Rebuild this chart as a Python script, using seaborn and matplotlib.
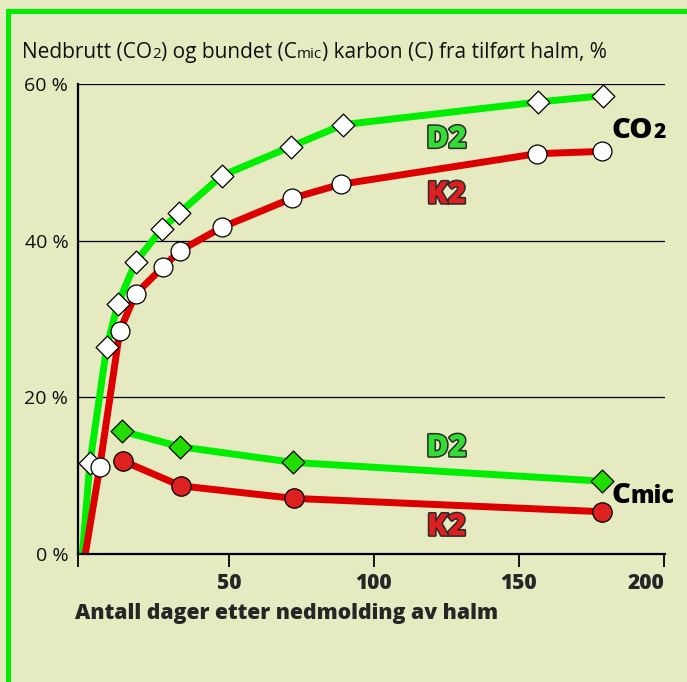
import matplotlib
matplotlib.use('Agg')
import matplotlib.pyplot as plt
import matplotlib.patheffects as pe
from matplotlib.patches import Rectangle
from matplotlib.transforms import IdentityTransform
import pandas as pd
import seaborn as sns

# CO2 released (open markers); lines start at day ~0, 0 %
co2_d2_days = [2.1, 7.9, 11.7, 17.9, 26.9, 32.8, 47.6, 71.4, 89.3, 156.6, 179.0]
co2_d2_pct = [11.6, 26.4, 31.9, 37.3, 41.5, 43.5, 48.3, 52.0, 54.8, 57.7, 58.5]
co2_k2_days = [5.5, 12.4, 17.9, 27.2, 33.1, 47.6, 71.7, 88.6, 156.2, 178.6]
co2_k2_pct = [11.1, 28.5, 33.2, 36.6, 38.7, 41.7, 45.4, 47.2, 51.1, 51.4]
start_d2 = (-0.5, 0.0)
start_k2 = (0.5, 0.0)

# microbial carbon (filled markers)
cmic_d2_days = [13.1, 33.1, 72.1, 178.6]
cmic_d2_pct = [15.7, 13.7, 11.7, 9.3]
cmic_k2_days = [13.4, 33.4, 72.4, 178.6]
cmic_k2_pct = [11.9, 8.7, 7.1, 5.4]

x_ticks = [-2, 50, 100, 150, 200]
x_ticklabels = ['', '50', '100', '150', '200']
y_ticks = [0, 20, 40, 60]
y_ticklabels = ['0 %', '20 %', '40 %', '60 %']

BG = '#e5eac1'
GREEN = '#00ee00'
RED = '#dd0000'
FIG_W, FIG_H = 687, 682


def frame(days, pct):
    return pd.DataFrame({'dag': days, 'pct': pct})


def rich_text(fig, x, y, parts, **kw):
    # draw text pieces side by side on a common baseline (pixel coords)
    renderer = fig.canvas.get_renderer()
    for s, size in parts:
        t = fig.text(x, y, s, fontsize=size, va='baseline', ha='left',
                     transform=IdentityTransform(), **kw)
        x += t.get_window_extent(renderer).width
    return x


def main():
    sns.set_theme(style='white')
    plt.rcParams['font.family'] = ['Open Sans', 'DejaVu Sans']

    fig = plt.figure(figsize=(FIG_W / 100, FIG_H / 100), dpi=100, facecolor=BG)
    ax = fig.add_axes([78 / FIG_W, 1 - 554 / FIG_H, 587 / FIG_W, 470 / FIG_H])
    ax.set_facecolor(BG)

    # frame border (top and left)
    fig.add_artist(Rectangle((6 / FIG_W, 1 - 14 / FIG_H), 1, 5 / FIG_H,
                             transform=fig.transFigure, color=GREEN, lw=0))
    fig.add_artist(Rectangle((6 / FIG_W, 0), 5 / FIG_W, 1 - 9 / FIG_H,
                             transform=fig.transFigure, color=GREEN, lw=0))

    co2_d2 = frame([start_d2[0]] + co2_d2_days, [start_d2[1]] + co2_d2_pct)
    co2_k2 = frame([start_k2[0]] + co2_k2_days, [start_k2[1]] + co2_k2_pct)
    cm_d2 = frame(cmic_d2_days, cmic_d2_pct)
    cm_k2 = frame(cmic_k2_days, cmic_k2_pct)

    line_kw = dict(x='dag', y='pct', ax=ax, lw=5, sort=False, estimator=None,
                   solid_capstyle='butt', solid_joinstyle='round')
    sns.lineplot(data=co2_d2, color=GREEN, zorder=2, **line_kw)
    sns.lineplot(data=cm_d2, color=GREEN, zorder=2, **line_kw)
    sns.lineplot(data=co2_k2, color=RED, zorder=2.5, **line_kw)
    sns.lineplot(data=cm_k2, color=RED, zorder=2.5, **line_kw)

    mk = dict(x='dag', y='pct', ax=ax, edgecolor='black', linewidth=0.9,
              clip_on=False, legend=False)
    sns.scatterplot(data=co2_d2.iloc[1:], marker='D', s=135, color='white', zorder=4, **mk)
    sns.scatterplot(data=cm_d2, marker='D', s=135, color='#22dd00', zorder=4, **mk)
    sns.scatterplot(data=co2_k2.iloc[1:], marker='o', s=185, color='white', zorder=5, **mk)
    sns.scatterplot(data=cm_k2, marker='o', s=195, color='#dd2020', zorder=5, **mk)

    ax.set_xlim(-2, 200.4)
    ax.set_ylim(0, 60)
    ax.set_xticks(x_ticks)
    ax.set_xticklabels(x_ticklabels, fontsize=15, fontweight='heavy')
    ax.get_xticklabels()[-1].set_ha('right')  # last label kept inside the frame
    ax.set_yticks(y_ticks)
    ax.set_yticklabels(y_ticklabels, fontsize=14, color='#111111')
    ax.tick_params(axis='x', bottom=True, length=9, width=1.3, color='black', pad=5)
    ax.tick_params(axis='y', left=False, length=0, pad=7)
    ax.yaxis.grid(True, color='black', lw=0.9)
    ax.xaxis.grid(False)
    for side in ('top', 'right'):
        ax.spines[side].set_visible(False)
    for side in ('left', 'bottom'):
        ax.spines[side].set_color('black')
        ax.spines[side].set_linewidth(1.6)
    ax.set_ylabel('')
    ax.set_xlabel('Antall dager etter nedmolding av halm', fontsize=15.2,
                  fontweight='heavy', loc='left')
    ax.xaxis.set_label_coords(-0.005, -0.104)

    # series labels
    stroke = [pe.withStroke(linewidth=2.2, foreground='#2a2a2a')]
    lab = dict(fontsize=22, fontweight='heavy', ha='center', va='center', path_effects=stroke)
    ax.text(125, 52.9, 'D2', color='#33dd33', **lab)
    ax.text(125, 45.8, 'K2', color='#dd1f1f', **lab)
    ax.text(125, 13.5, 'D2', color='#33dd33', **lab)
    ax.text(125, 3.4, 'K2', color='#dd1f1f', **lab)

    # title and curve names with small trailing parts
    rich_text(fig, 22, FIG_H - 58, [('Nedbrutt (CO', 15), ('2', 11),
                                    (') og bundet (C', 15), ('mic', 11),
                                    (') karbon (C) fra tilført halm, %', 15)],
              color='#111111')
    px, py = ax.transData.transform((182, 53.1))
    rich_text(fig, px, py, [('CO', 21), ('2', 15)], fontweight='heavy', color='black')
    px, py = ax.transData.transform((182, 6.5))
    rich_text(fig, px, py, [('C', 21), ('mic', 17)], fontweight='heavy', color='black')

    fig.savefig('out.png', dpi=100, facecolor=fig.get_facecolor())


if __name__ == "__main__":
    main()
